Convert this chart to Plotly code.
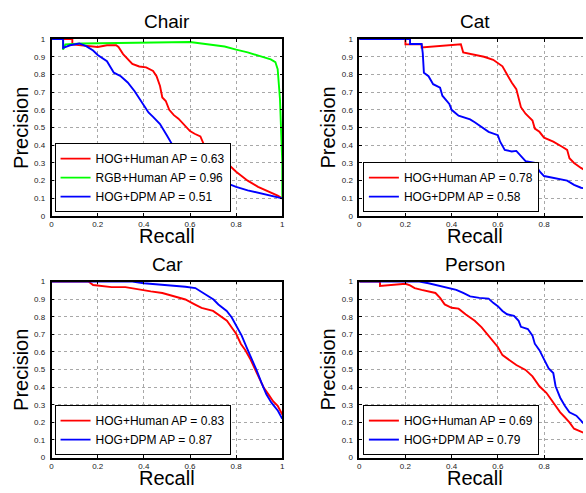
import plotly.graph_objects as go

# ---------------- data ----------------
chair_hog_r = [0, 0.09, 0.09, 0.14, 0.2, 0.24, 0.28, 0.29, 0.31, 0.35, 0.38, 0.41, 0.44, 0.455, 0.47, 0.48,
               0.495, 0.51, 0.53, 0.55, 0.58, 0.6, 0.62, 0.645, 0.665, 0.695, 0.72, 0.76, 0.8, 0.85, 0.895,
               0.94, 0.98, 1.0]
chair_hog_p = [1, 1, 0.97, 0.965, 0.955, 0.965, 0.965, 0.955, 0.915, 0.86, 0.845, 0.84, 0.82, 0.79, 0.735, 0.67,
               0.65, 0.6, 0.57, 0.55, 0.51, 0.48, 0.465, 0.45, 0.39, 0.365, 0.335, 0.30, 0.25, 0.20, 0.165,
               0.14, 0.115, 0.10]

chair_rgb_r = [0, 0.05, 0.05, 0.06, 0.13, 0.25, 0.4, 0.5, 0.6, 0.65, 0.7, 0.75, 0.8, 0.85, 0.9, 0.95, 0.97,
               0.98, 0.99, 0.995, 1.0, 1.0]
chair_rgb_p = [1, 1, 0.94, 0.97, 0.975, 0.978, 0.982, 0.983, 0.983, 0.975, 0.965, 0.958, 0.94, 0.925, 0.905,
               0.885, 0.87, 0.83, 0.66, 0.42, 0.3, 0.1]

chair_dpm_r = [0, 0.05, 0.05, 0.08, 0.12, 0.15, 0.18, 0.2, 0.24, 0.27, 0.3, 0.33, 0.36, 0.39, 0.42, 0.44, 0.47,
               0.5, 0.52, 0.55, 0.58, 0.6, 0.63, 0.66, 0.7, 0.75, 0.8, 0.85, 0.9, 0.95, 1.0]
chair_dpm_p = [1, 1, 0.95, 0.965, 0.975, 0.96, 0.935, 0.91, 0.875, 0.81, 0.79, 0.755, 0.705, 0.645, 0.585, 0.56,
               0.52, 0.455, 0.41, 0.375, 0.32, 0.30, 0.265, 0.24, 0.215, 0.19, 0.165, 0.145, 0.13, 0.115, 0.10]

cat_hog_r = [0, 0.2, 0.2, 0.27, 0.27, 0.35, 0.44, 0.45, 0.5, 0.54, 0.58, 0.6, 0.62, 0.64, 0.66, 0.68, 0.69,
             0.7, 0.72, 0.75, 0.76, 0.78, 0.8, 0.84, 0.88, 0.9, 0.91, 0.93, 0.96, 1.0]
cat_hog_p = [1, 1, 0.97, 0.97, 0.952, 0.96, 0.97, 0.925, 0.91, 0.9, 0.883, 0.865, 0.846, 0.8, 0.754, 0.717, 0.67,
             0.615, 0.578, 0.54, 0.494, 0.476, 0.443, 0.42, 0.39, 0.374, 0.327, 0.3, 0.272, 0.24]

cat_dpm_r = [0, 0.22, 0.22, 0.27, 0.275, 0.28, 0.3, 0.32, 0.35, 0.36, 0.39, 0.4, 0.43, 0.45, 0.48, 0.5, 0.53,
             0.56, 0.6, 0.61, 0.63, 0.66, 0.68, 0.7, 0.72, 0.76, 0.78, 0.8, 0.84, 0.9, 0.93, 0.96, 1.0]
cat_dpm_p = [1, 1, 0.972, 0.972, 0.92, 0.81, 0.79, 0.745, 0.725, 0.68, 0.633, 0.6, 0.567, 0.56, 0.546, 0.53,
             0.504, 0.476, 0.457, 0.42, 0.374, 0.365, 0.368, 0.337, 0.31, 0.3, 0.254, 0.226, 0.217, 0.2, 0.176,
             0.16, 0.15]

car_hog_r = [0, 0.16, 0.18, 0.22, 0.26, 0.32, 0.38, 0.43, 0.48, 0.53, 0.58, 0.62, 0.65, 0.7, 0.73, 0.76, 0.78,
             0.8, 0.82, 0.84, 0.86, 0.88, 0.9, 0.92, 0.94, 0.96, 0.98, 1.0]
car_hog_p = [1, 1, 0.98, 0.976, 0.968, 0.968, 0.953, 0.944, 0.935, 0.916, 0.898, 0.87, 0.85, 0.833, 0.805, 0.777,
             0.74, 0.703, 0.647, 0.61, 0.563, 0.507, 0.442, 0.396, 0.359, 0.32, 0.294, 0.245]

car_dpm_r = [0, 0.35, 0.4, 0.5, 0.58, 0.623, 0.666, 0.702, 0.723, 0.759, 0.781, 0.802, 0.824, 0.845, 0.867,
             0.888, 0.91, 0.931, 0.953, 0.981, 1.0]
car_dpm_p = [1, 1, 0.99, 0.98, 0.97, 0.963, 0.926, 0.898, 0.87, 0.833, 0.796, 0.749, 0.693, 0.628, 0.563, 0.498,
             0.424, 0.359, 0.312, 0.266, 0.22]

person_hog_r = [0, 0.09, 0.09, 0.2, 0.22, 0.24, 0.27, 0.3, 0.33, 0.35, 0.37, 0.4, 0.43, 0.46, 0.5, 0.53, 0.56,
                0.58, 0.6, 0.62, 0.65, 0.68, 0.72, 0.75, 0.78, 0.81, 0.83, 0.85, 0.87, 0.89, 0.91, 0.93, 0.96,
                1.0]
person_hog_p = [1, 1, 0.975, 0.987, 0.978, 0.963, 0.953, 0.944, 0.935, 0.907, 0.87, 0.851, 0.846, 0.814, 0.777,
                0.74, 0.693, 0.665, 0.628, 0.582, 0.554, 0.526, 0.498, 0.461, 0.405, 0.368, 0.331, 0.294, 0.257,
                0.229, 0.2, 0.164, 0.145, 0.125]

person_dpm_r = [0, 0.26, 0.3, 0.34, 0.38, 0.42, 0.45, 0.48, 0.52, 0.56, 0.58, 0.6, 0.62, 0.64, 0.67, 0.69, 0.7,
                0.73, 0.75, 0.76, 0.78, 0.8, 0.82, 0.84, 0.85, 0.87, 0.89, 0.91, 0.94, 0.96, 0.98, 1.0]
person_dpm_p = [1, 1, 0.99, 0.978, 0.963, 0.953, 0.935, 0.916, 0.907, 0.903, 0.879, 0.86, 0.833, 0.814, 0.805,
                0.777, 0.743, 0.73, 0.693, 0.647, 0.61, 0.554, 0.507, 0.48, 0.405, 0.34, 0.294, 0.257, 0.238,
                0.21, 0.18, 0.14]

titles = ["Chair", "Cat", "Car", "Person"]
x_ticks = [0, 0.2, 0.4, 0.6, 0.8, 1]
y_ticks = [0, 0.1, 0.2, 0.3, 0.4, 0.5, 0.6, 0.7, 0.8, 0.9, 1]

# ---------------- figure ----------------
W, H = 586, 493
FONT = "Liberation Sans, Arial, Helvetica, sans-serif"
RED, GREEN, BLUE = "#ff0000", "#00ff00", "#0000ff"

fig = go.Figure()

def add(r, p, name, color, k):
    sfx = "" if k == 1 else str(k)
    fig.add_trace(go.Scatter(x=r, y=p, mode="lines", name=name,
                             line=dict(color=color, width=1.9),
                             xaxis="x" + sfx, yaxis="y" + sfx,
                             legend="legend" + sfx, hoverinfo="skip"))

add(chair_hog_r, chair_hog_p, "HOG+Human AP = 0.63", RED, 1)
add(chair_rgb_r, chair_rgb_p, "RGB+Human AP = 0.96", GREEN, 1)
add(chair_dpm_r, chair_dpm_p, "HOG+DPM AP = 0.51", BLUE, 1)
add(cat_hog_r, cat_hog_p, "HOG+Human AP = 0.78", RED, 2)
add(cat_dpm_r, cat_dpm_p, "HOG+DPM AP = 0.58", BLUE, 2)
add(car_hog_r, car_hog_p, "HOG+Human AP = 0.83", RED, 3)
add(car_dpm_r, car_dpm_p, "HOG+DPM AP = 0.87", BLUE, 3)
add(person_hog_r, person_hog_p, "HOG+Human AP = 0.69", RED, 4)
add(person_dpm_r, person_dpm_p, "HOG+DPM AP = 0.79", BLUE, 4)

# pixel geometry of the four axes boxes
left_px = (50, 282.7)
right_px = (360.3, 586)
right_xmax = (586 - 360.3) / 233.0   # right column is cut off by the image edge
top_px = (35.7, 216)
bot_px = (282.7, 462)

def dx(a, b):
    return [a / W, b / W]

def dy(t, b):
    return [1 - b / H, 1 - t / H]

axis_common = dict(showline=True, linecolor="black", linewidth=1.5,
                   ticks="inside", ticklen=3, tickcolor="black", tickwidth=1,
                   showgrid=True, gridcolor="#a8a8a8", gridwidth=1, griddash="dot",
                   zeroline=False,
                   tickfont=dict(family=FONT, size=8, color="#222222"))

layout = dict(width=W, height=H, margin=dict(l=0, r=0, t=0, b=0),
              paper_bgcolor="white", plot_bgcolor="white", showlegend=True,
              font=dict(family=FONT, color="black"))

specs = [(1, left_px, top_px, 1.0, "ticks"),
         (2, right_px, top_px, right_xmax, False),
         (3, left_px, bot_px, 1.0, "ticks"),
         (4, right_px, bot_px, right_xmax, False)]

for k, xp, yp, xmax, mirror_y in specs:
    sfx = "" if k == 1 else str(k)
    layout["xaxis" + sfx] = dict(axis_common, domain=dx(*xp), range=[0, xmax],
                                 tickvals=x_ticks, anchor="y" + sfx, mirror="ticks")
    layout["yaxis" + sfx] = dict(axis_common, domain=dy(*yp), range=[0, 1],
                                 tickvals=y_ticks, anchor="x" + sfx, mirror=mirror_y,
                                 ticklabelstandoff=3)

legend_common = dict(bgcolor="white", bordercolor="black", borderwidth=1,
                     font=dict(family=FONT, size=12, color="black"),
                     xanchor="left", yanchor="bottom", tracegroupgap=0, itemwidth=30)
legend_pos = {1: (53, 212), 2: (364, 212), 3: (53, 459.5), 4: (364, 459.5)}
for k, (lx, lb) in legend_pos.items():
    sfx = "" if k == 1 else str(k)
    layout["legend" + sfx] = dict(legend_common, x=lx / W, y=1 - lb / H)

annotations = []
for k, xp, yp, xmax, _ in specs:
    cx = (xp[0] + (xp[0] + 233)) / 2.0
    top, bot = yp
    annotations.append(dict(text=titles[k - 1], x=cx / W, y=1 - (top - 17.5) / H, xref="paper", yref="paper",
                            showarrow=False, xanchor="center", yanchor="middle",
                            font=dict(family=FONT, size=19, color="black")))
    annotations.append(dict(text="Recall", x=cx / W, y=1 - (bot + 20.5) / H, xref="paper", yref="paper",
                            showarrow=False, xanchor="center", yanchor="middle",
                            font=dict(family=FONT, size=20, color="black")))
    annotations.append(dict(text="Precision", x=(xp[0] - 31.5) / W, y=1 - ((top + bot) / 2) / H,
                            xref="paper", yref="paper", textangle=-90,
                            showarrow=False, xanchor="center", yanchor="middle",
                            font=dict(family=FONT, size=20, color="black")))
layout["annotations"] = annotations

fig.update_layout(**layout)
fig.write_html("out.html", config={"displayModeBar": False},
               post_script="document.body.style.margin='0px';document.body.style.overflow='hidden';")
